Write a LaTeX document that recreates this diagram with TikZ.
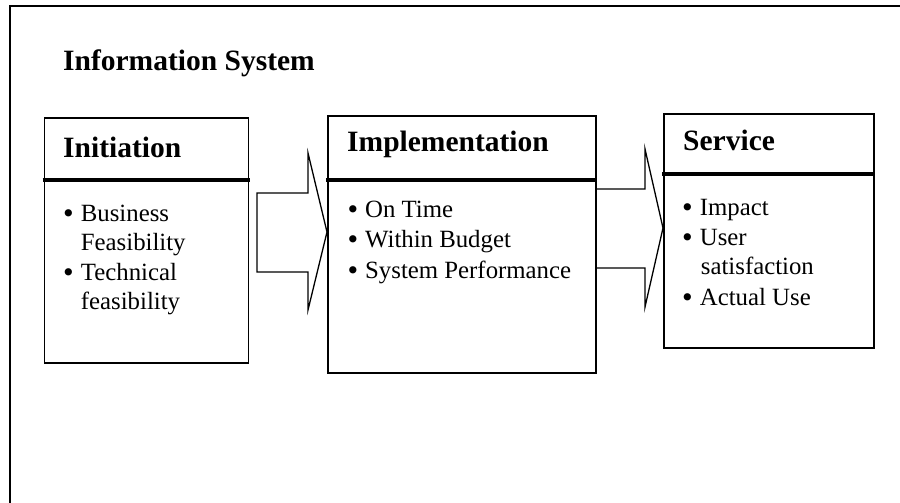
\documentclass[tikz,border=0pt]{standalone}
\usepackage{fontspec}
\setmainfont{Liberation Serif}
\newfontfamily\bulletfont{DejaVu Sans}
% list marker followed by a fixed indent up to the item text
\newcommand\itemmark{\makebox[19.7pt][l]{\bulletfont\raisebox{-1.2pt}{\char"2022}}}
\begin{document}
\begin{tikzpicture}[x=1pt,y=-1pt,
  frame/.style={line width=2pt},
  stagebox/.style={draw, line width=1.6pt, inner sep=0pt, anchor=north west},
  divider/.style={line width=4pt},
  blockarrow/.style={draw, line width=1.3pt, line join=miter},
  heading/.style={anchor=base west, inner sep=0pt, font=\fontsize{29.5}{35}\selectfont\bfseries},
  item/.style={anchor=base west, inner sep=0pt, font=\fontsize{24.8}{30}\selectfont}]
\useasboundingbox (0,0) rectangle (900,503);

% page frame (top and left edges)
\draw[frame] (9.5,503) -- (9.5,6) -- (900,6);

\node[heading] (title) at (63,70.5) {Information System};

% the three stages
\node[stagebox, minimum width=204pt, minimum height=245pt] (init) at (43.5,117) {};
\node[stagebox, minimum width=268pt, minimum height=257pt] (impl) at (327,115) {};
\node[stagebox, minimum width=210pt, minimum height=234pt] (serv) at (663,113) {};

\draw[divider] ([xshift=-0.8pt]init.west |- 0,179.5) -- ([xshift=0.8pt]init.east |- 0,179.5);
\draw[divider] ([xshift=-0.8pt]impl.west |- 0,180) -- ([xshift=0.8pt]impl.east |- 0,180);
\draw[divider] ([xshift=-0.8pt]serv.west |- 0,173.5) -- ([xshift=0.8pt]serv.east |- 0,173.5);

% block arrows between the stages
\draw[blockarrow] (257,193) -- (308,193) -- (308,153) -- (impl.west |- 0,232)
  -- (308,310) -- (308,272) -- (257,272) -- cycle;
\draw[blockarrow] (impl.east |- 0,189) -- (645,189) -- (645,149) -- (serv.west |- 0,228)
  -- (645,307) -- (645,268) -- (impl.east |- 0,268);

% headings
\node[heading] (h1) at (63,157) {Initiation};
\node[heading] (h2) at (347,151.7) {Implementation};
\node[heading] (h3) at (683,150) {Service};

% Initiation items
\node[item] (t11) at (61,221) {\itemmark Business};
\node[item] (t12) at (80.7,250.5) {Feasibility};
\node[item] (t13) at (61,280) {\itemmark Technical};
\node[item] (t14) at (80.7,309.5) {feasibility};

% Implementation items
\node[item] (t21) at (345.3,217) {\itemmark On Time};
\node[item] (t22) at (345.3,247.5) {\itemmark Within Budget};
\node[item] (t23) at (345.3,278) {\itemmark System Performance};

% Service items
\node[item] (t31) at (680,215) {\itemmark Impact};
\node[item] (t32) at (680,245) {\itemmark User};
\node[item] (t33) at (700.7,274.5) {satisfaction};
\node[item] (t34) at (680,305) {\itemmark Actual Use};
\end{tikzpicture}
\end{document}
